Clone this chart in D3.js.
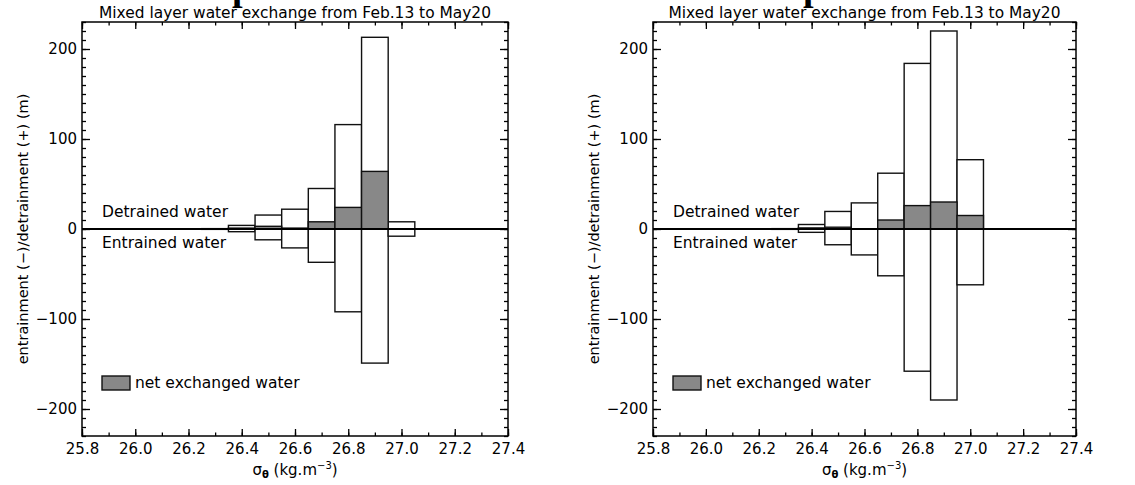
<!DOCTYPE html>
<html>
<head>
<meta charset="utf-8">
<script src="https://cdn.jsdelivr.net/npm/d3@7"></script>
<style>
  body { margin: 0; background: #fff; }
  svg { display: block; font-family: 'DejaVu Sans', sans-serif; }
  .axis path.domain { display: none; }
  .axis line { stroke: #000; stroke-width: 1.3; }
  .axis text { font-size: 15px; fill: #000; font-family: 'DejaVu Sans', sans-serif; }
</style>
</head>
<body>
<div id="chart"></div>
<script>
/* global d3 */

// sigma-theta bin centres (kg.m-3), one bar per bin
const sigmaBins = [26.3, 26.4, 26.5, 26.6, 26.7, 26.8, 26.9, 27.0];

// left panel
const leftDetrained = [0.4, 4, 15.5, 22, 45, 116, 213, 8];
const leftEntrained = [-0.4, -3, -12, -21, -37, -92, -149, -8];
const leftNet = [0, 1, 3, 1, 8, 24, 64, 0];

// right panel
const rightDetrained = [0.4, 5, 19.5, 29, 62, 184, 220, 77];
const rightEntrained = [-0.4, -3.7, -17.5, -28.8, -52, -158, -190, -62];
const rightNet = [0, 1.2, 2, 0.2, 10, 26, 30, 15];

const xMajorTicks = [25.8, 26.0, 26.2, 26.4, 26.6, 26.8, 27.0, 27.2, 27.4];
const yMajorTicks = [-200, -100, 0, 100, 200];

const titleText = 'Mixed layer water exchange from Feb.13 to May20';
const yLabelText = 'entrainment (\u2212)/detrainment (+) (m)';

const width = 1135;
const height = 485;
const binWidth = 0.1;

const svg = d3.select('#chart').append('svg')
  .attr('width', width)
  .attr('height', height);

function drawPanel(left, right, detrained, entrained, net) {
  const top = 22;
  const bottom = 436;

  const xScale = d3.scaleLinear().domain([25.8, 27.4]).range([left, right]);
  const yScale = d3.scaleLinear().domain([-230, 230]).range([bottom, top]);

  const xMinor = d3.range(258, 275).map((d) => d / 10);
  const yMinor = d3.range(-23, 24).map((d) => d * 10);

  const g = svg.append('g');

  // minor ticks (all four sides, pointing in)
  g.append('g').attr('class', 'axis').attr('transform', `translate(0,${bottom})`)
    .call(d3.axisBottom(xScale).tickValues(xMinor).tickSize(-3.5).tickFormat(''));
  g.append('g').attr('class', 'axis').attr('transform', `translate(0,${top})`)
    .call(d3.axisTop(xScale).tickValues(xMinor).tickSize(-3.5).tickFormat(''));
  g.append('g').attr('class', 'axis').attr('transform', `translate(${left},0)`)
    .call(d3.axisLeft(yScale).tickValues(yMinor).tickSize(-4).tickFormat(''));
  g.append('g').attr('class', 'axis').attr('transform', `translate(${right},0)`)
    .call(d3.axisRight(yScale).tickValues(yMinor).tickSize(-4).tickFormat(''));

  // major ticks
  g.append('g').attr('class', 'axis').attr('transform', `translate(0,${bottom})`)
    .call(d3.axisBottom(xScale).tickValues(xMajorTicks).tickSize(-7).tickPadding(7)
      .tickFormat(d3.format('.1f')));
  g.append('g').attr('class', 'axis').attr('transform', `translate(0,${top})`)
    .call(d3.axisTop(xScale).tickValues(xMajorTicks).tickSize(-7).tickFormat(''));
  g.append('g').attr('class', 'axis').attr('transform', `translate(${left},0)`)
    .call(d3.axisLeft(yScale).tickValues(yMajorTicks).tickSize(-8).tickPadding(5)
      .tickFormat(d3.format('d')));
  g.append('g').attr('class', 'axis').attr('transform', `translate(${right},0)`)
    .call(d3.axisRight(yScale).tickValues(yMajorTicks).tickSize(-8).tickFormat(''));

  // bars
  const bars = g.append('g');
  const bx = (d) => xScale(d - binWidth / 2);
  const bw = xScale(25.8 + binWidth) - xScale(25.8);

  bars.selectAll('rect.pos').data(sigmaBins).join('rect')
    .attr('class', 'pos')
    .attr('x', bx)
    .attr('width', bw)
    .attr('y', (d, i) => yScale(detrained[i]))
    .attr('height', (d, i) => yScale(0) - yScale(detrained[i]))
    .style('fill', '#fff')
    .style('stroke', '#111')
    .style('stroke-width', 1.4);

  bars.selectAll('rect.neg').data(sigmaBins).join('rect')
    .attr('class', 'neg')
    .attr('x', bx)
    .attr('width', bw)
    .attr('y', yScale(0))
    .attr('height', (d, i) => yScale(entrained[i]) - yScale(0))
    .style('fill', '#fff')
    .style('stroke', '#111')
    .style('stroke-width', 1.4);

  bars.selectAll('rect.net').data(sigmaBins).join('rect')
    .attr('class', 'net')
    .attr('x', bx)
    .attr('width', bw)
    .attr('y', (d, i) => yScale(net[i]))
    .attr('height', (d, i) => yScale(0) - yScale(net[i]))
    .style('fill', '#888888')
    .style('stroke', '#111')
    .style('stroke-width', 1.4);

  // zero line
  g.append('line')
    .attr('x1', left).attr('x2', right)
    .attr('y1', yScale(0)).attr('y2', yScale(0))
    .style('stroke', '#000')
    .style('stroke-width', 2);

  // frame
  g.append('rect')
    .attr('x', left).attr('y', top)
    .attr('width', right - left).attr('height', bottom - top)
    .style('fill', 'none')
    .style('stroke', '#000')
    .style('stroke-width', 1.5);

  // title
  g.append('text')
    .attr('x', (left + right) / 2)
    .attr('y', 18)
    .attr('text-anchor', 'middle')
    .attr('textLength', 392)
    .attr('lengthAdjust', 'spacingAndGlyphs')
    .style('font-size', '15px')
    .text(titleText);

  // clipped heading glyph peeking in at the top edge (as in the source figure)
  g.append('text')
    .attr('x', left + 150)
    .attr('y', 0)
    .style('font-family', "'Liberation Serif', serif")
    .style('font-weight', 'bold')
    .style('font-size', '38px')
    .text('p');

  // y label
  g.append('text')
    .attr('transform', `translate(${left - 54},${yScale(0)}) rotate(-90)`)
    .attr('text-anchor', 'middle')
    .style('font-size', '14.5px')
    .text(yLabelText);

  // x label
  const xl = g.append('text')
    .attr('x', (left + right) / 2)
    .attr('y', 475)
    .attr('text-anchor', 'middle')
    .style('font-size', '15px');
  xl.append('tspan').text('\u03c3');
  xl.append('tspan').attr('dy', 3).style('font-size', '10px').style('font-weight', 'bold').text('\u03b8');
  xl.append('tspan').attr('dy', -3).text(' (kg.m');
  xl.append('tspan').attr('dy', -6).style('font-size', '10px').text('\u22123');
  xl.append('tspan').attr('dy', 6).text(')');

  // annotations
  g.append('text')
    .attr('x', left + 20).attr('y', yScale(0) - 12)
    .style('font-size', '15.5px')
    .text('Detrained water');
  g.append('text')
    .attr('x', left + 20).attr('y', yScale(0) + 19)
    .style('font-size', '15.5px')
    .text('Entrained water');

  // legend
  g.append('rect')
    .attr('x', left + 20).attr('y', 376)
    .attr('width', 28).attr('height', 14)
    .style('fill', '#888888')
    .style('stroke', '#111')
    .style('stroke-width', 1.4);
  g.append('text')
    .attr('x', left + 53).attr('y', 388)
    .style('font-size', '15.5px')
    .text('net exchanged water');
}

drawPanel(82, 508, leftDetrained, leftEntrained, leftNet);
drawPanel(653, 1076, rightDetrained, rightEntrained, rightNet);
</script>
</body>
</html>
